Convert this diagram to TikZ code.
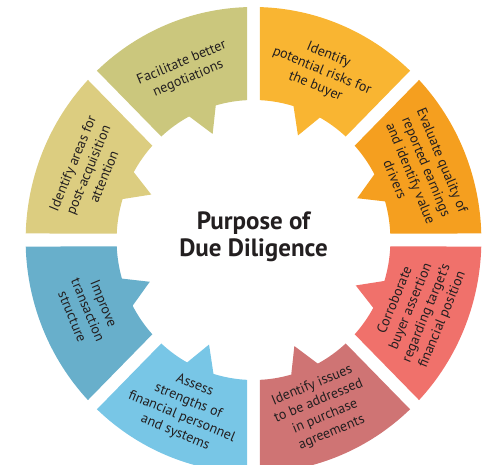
\documentclass[tikz,border=0pt]{standalone}
\usepackage{fontspec}
\setmainfont{PT Sans}
\definecolor{ddolive}{RGB}{203,199,125}
\definecolor{ddkhaki}{RGB}{220,205,128}
\definecolor{ddsteel}{RGB}{104,175,203}
\definecolor{ddsky}{RGB}{120,198,230}
\definecolor{ddrose}{RGB}{207,116,116}
\definecolor{ddred}{RGB}{240,113,107}
\definecolor{ddorange}{RGB}{245,159,31}
\definecolor{ddamber}{RGB}{249,181,50}
\definecolor{ddtext}{RGB}{35,31,32}
\tikzset{
  seglab/.style={align=center,text=ddtext,inner sep=0pt,font=\fontsize{14}{17}\selectfont},
  ddtitle/.style={align=center,text=ddtext,inner sep=0pt,font=\bfseries\fontsize{25}{27}\selectfont}
}

\begin{document}
\begin{tikzpicture}[x=1pt,y=1pt]
  \useasboundingbox (0,0) rectangle (484,464);
  \begin{scope}[shift={(253.5,224)},xscale=0.978]
    % ring pieces: 45 deg each, 13pt gaps, a small tooth on the inner rim
    \foreach \a/\col in {0/ddorange,45/ddamber,90/ddolive,135/ddkhaki,180/ddsteel,225/ddsky,270/ddrose,315/ddred}
      \fill[\col] ({\a+1.6}:233) arc[start angle=\a+1.6,end angle=\a+43.4,radius=233]
        -- ({\a+42.34}:140) arc[start angle=\a+42.34,end angle=\a+28,radius=140]
        -- ({\a+21.5}:114) -- ({\a+16}:140)
        arc[start angle=\a+16,end angle=\a+2.66,radius=140] -- cycle;
    \foreach \a/\rot/\txt [count=\i] in {
        112.5/22.5/{Facilitate better\\negotiations},
        67.5/-22.5/{Identify\\potential risks for\\the buyer},
        22.5/-67.5/{Evaluate quality of\\reported earnings\\and identify value\\drivers},
        -22.5/67.5/{Corroborate\\buyer assertion\\regarding target’s\\financial position},
        -67.5/22.5/{Identify issues\\to be addressed\\in purchase\\agreements},
        -112.5/-22.5/{Assess\\strengths of\\financial personnel\\and systems},
        -157.5/-67.5/{Improve\\transaction\\structure},
        157.5/67.5/{Identify areas for\\post-acquisition\\attention}}
      \node[seglab,rotate=\rot] (lab\i) at (\a:183) {\txt};
    \node[ddtitle] (title) at (0,3) {Purpose of\\Due Diligence};
  \end{scope}
\end{tikzpicture}
\end{document}
